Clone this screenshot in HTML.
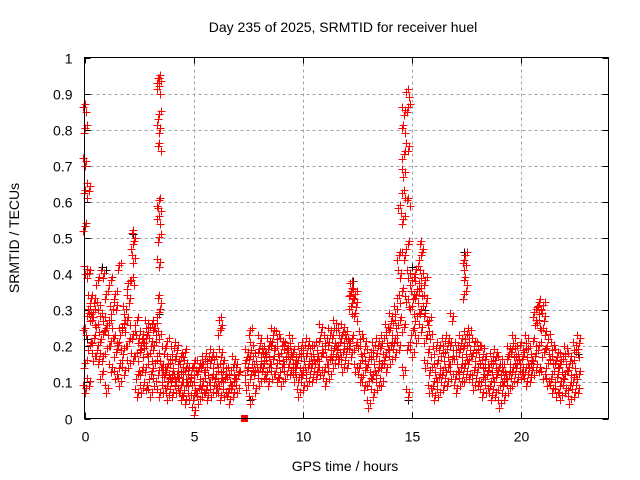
<!DOCTYPE html>
<html><head><meta charset="utf-8"><style>
body{margin:0;background:#fff}
svg{display:block;font-family:"Liberation Sans",sans-serif}
</style></head><body>
<svg id="chart" width="640" height="480" viewBox="0 0 640 480">
<rect width="640" height="480" fill="#fff"/>
<text x="343" y="32" font-size="14" text-anchor="middle">Day 235 of 2025, SRMTID for receiver huel</text>
<text transform="translate(19,238) rotate(-90)" font-size="14" text-anchor="middle">SRMTID / TECUs</text>
<text x="345" y="471" font-size="14" text-anchor="middle">GPS time / hours</text>
<g id="grid" shape-rendering="crispEdges"></g><g id="ticks" shape-rendering="crispEdges"></g><g id="black" shape-rendering="crispEdges"></g><g id="red" shape-rendering="crispEdges"></g>
<rect x="84.5" y="57.5" width="524" height="361" fill="none" stroke="#000" stroke-width="1" shape-rendering="crispEdges"/>
</svg>
<script>
const xTicks=[0,5,10,15,20];
const yTicks=[0,0.1,0.2,0.3,0.4,0.5,0.6,0.7,0.8,0.9,1];
const yTickLabels=["0","0.1","0.2","0.3","0.4","0.5","0.6","0.7","0.8","0.9","1"];
const redTimes=[0,0.2,0.4,0.6,0.8,1.0,1.2,1.4,1.6,1.8,2.0,2.2,2.4,2.6,2.8,3.0,3.2,3.4,3.6,3.8,4.0,4.2,4.4,4.6,4.8,5.0,5.2,5.4,5.6,5.8,6.0,6.2,6.4,6.6,6.8,7.0,7.4,7.6,7.8,8.0,8.2,8.4,8.6,8.8,9.0,9.2,9.4,9.6,9.8,10.0,10.2,10.4,10.6,10.8,11.0,11.2,11.4,11.6,11.8,12.0,12.2,12.4,12.6,12.8,13.0,13.2,13.4,13.6,13.8,14.0,14.2,14.4,14.6,14.8,15.0,15.2,15.4,15.6,15.8,16.0,16.2,16.4,16.6,16.8,17.0,17.2,17.4,17.6,17.8,18.0,18.2,18.4,18.6,18.8,19.0,19.2,19.4,19.6,19.8,20.0,20.2,20.4,20.6,20.8,21.0,21.2,21.4,21.6,21.8,22.0,22.2,22.4,22.6];
const redValues=[
[.08,.15,.24,.41,.53,.62,.71,.80,.86],[.10,.20,.28,.33,.40,.30,.64],[.17,.22,.27,.33,.29],[.16,.20,.25,.31,.38],[.17,.23,.28,.40,.12],
[.08,.19,.24,.27,.34],[.14,.21,.26,.30,.38],[.12,.18,.22,.31,.34],[.10,.15,.20,.24,.42],[.13,.19,.25,.30,.26],
[.15,.21,.27,.33,.37],[.17,.23,.38,.44,.48,.51],[.07,.12,.17,.22,.27],[.08,.13,.18,.23,.20],[.09,.14,.19,.26,.22],
[.07,.12,.17,.21,.25],[.10,.15,.24,.26,.20],[.07,.13,.17,.23,.29,.33,.43,.50,.55,.57,.60,.75,.80,.84,.91,.93,.94],
[.08,.11,.14,.19,.13],[.06,.10,.13,.16,.21],[.07,.11,.15,.19,.12],[.08,.12,.16,.20,.10],[.06,.09,.11,.14,.17],
[.05,.09,.12,.15,.18],[.06,.10,.13,.11],[.02,.06,.09,.13,.15],[.05,.08,.12,.15],[.07,.10,.14,.16],[.06,.09,.13,.17],
[.07,.11,.15,.18],[.08,.12,.16,.10],[.06,.10,.14,.18,.24,.27],[.07,.11,.15,.12],[.05,.08,.11,.13],[.07,.10,.13,.16],
[.08,.12,.14],[.09,.13,.15,.18],[.05,.12,.16,.20,.24],[.08,.13,.17,.14],[.10,.14,.18,.22],[.12,.15,.19,.17],
[.10,.14,.18,.21],[.12,.16,.20,.24],[.11,.15,.19,.23],[.10,.14,.17,.21],[.12,.16,.20,.18],[.13,.16,.19,.22],
[.11,.15,.18,.14],[.07,.11,.15,.19],[.09,.13,.17,.20],[.10,.14,.17,.21],[.11,.15,.19,.16],[.12,.16,.20,.14],
[.13,.17,.21,.25],[.10,.14,.18,.22],[.12,.16,.20,.24],[.15,.19,.22,.26],[.16,.20,.24,.18],[.14,.18,.22,.25],
[.15,.19,.23,.21],[.18,.22,.30,.33,.35,.37],[.14,.20,.28,.32,.34],[.11,.15,.19,.23],[.09,.13,.17,.21],
[.04,.10,.14,.18],[.07,.12,.16,.20],[.09,.13,.17,.21],[.10,.15,.19,.22],[.14,.18,.22,.25],[.16,.20,.24,.28],
[.18,.22,.26,.30],[.20,.27,.33,.40,.45,.58],[.13,.25,.35,.45,.55,.62,.68,.73,.80,.85],[.07,.20,.32,.40,.48,.60,.75,.86,.90],
[.18,.24,.30,.34,.38],[.22,.28,.33,.37,.41],[.25,.30,.35,.40,.45,.48],[.15,.22,.28,.33,.38],[.08,.13,.18,.23,.27],
[.06,.10,.14,.19],[.07,.11,.15,.20],[.09,.13,.17,.21],[.10,.14,.18,.22],[.12,.16,.20,.28],[.08,.12,.16,.20],
[.10,.14,.18,.22],[.11,.15,.19,.23,.34,.38,.42,.45],[.12,.16,.20,.24],[.09,.13,.17,.21],[.10,.14,.18,.20],
[.07,.11,.15,.19],[.08,.12,.16,.13],[.06,.10,.14,.17],[.07,.11,.15,.18],[.04,.09,.13,.16],[.06,.10,.14,.12],
[.08,.12,.16,.19],[.10,.14,.18,.22],[.11,.15,.19,.16],[.12,.16,.20,.14],[.10,.14,.18,.22],[.11,.15,.19,.13],
[.13,.17,.21,.27,.29],[.14,.20,.26,.30,.32],[.12,.18,.24,.28,.31],[.10,.15,.19,.23],[.08,.12,.16,.20],
[.07,.11,.15,.18],[.06,.10,.14,.17],[.08,.12,.16,.19],[.05,.09,.13,.17],[.07,.11,.15,.20],[.08,.12,.18,.22]];
const blackTimes=[0.1,0.8,1.0,2.2,3.4,7.6,12.3,14.8,15.0,15.6,17.4,22.6];
const blackValues=[.22,.42,.41,.51,.29,.05,.38,.05,.42,.30,.46,.18];
const markerTimes=[7.3];
const markerValues=[0];

const X0=84.5,X1=608.5,Y0=418.5,Y1=57.5,XMAX=24,YMAX=1;
const sx=t=>X0+(X1-X0)*t/XMAX;
const sy=v=>Y0-(Y0-Y1)*v/YMAX;
const NS="http://www.w3.org/2000/svg";
function mk(tag,attrs,parent){const e=document.createElementNS(NS,tag);for(const k in attrs)e.setAttribute(k,attrs[k]);parent.appendChild(e);return e;}
const grid=document.getElementById('grid'),ticks=document.getElementById('ticks');
xTicks.forEach(t=>{
  const x=Math.round(sx(t))+0.5;
  if(t>0){const g=mk('line',{x1:x,x2:x,y1:Y1,y2:Y0,stroke:'#a0a0a0','stroke-dasharray':'3,3'},grid);
  
  }
  mk('line',{x1:x,x2:x,y1:Y0,y2:Y0-6,stroke:'#000'},ticks);
  mk('line',{x1:x,x2:x,y1:Y1,y2:Y1+6,stroke:'#000'},ticks);
  const l=mk('text',{x:x,y:Y0+23,'font-size':14,'text-anchor':'middle'},ticks);
  l.textContent=String(t);
  
  
});
yTicks.forEach((v,i)=>{
  const y=Math.round(sy(v))+0.5;
  if(v>0&&v<1){const g=mk('line',{x1:X0,x2:X1,y1:y,y2:y,stroke:'#a0a0a0','stroke-dasharray':'3,3'},grid);
  
  }
  mk('line',{x1:X0,x2:X0+6,y1:y,y2:y,stroke:'#000'},ticks);
  mk('line',{x1:X1,x2:X1-6,y1:y,y2:y,stroke:'#000'},ticks);
  const l=mk('text',{x:X0-12,y:y+5,'font-size':14,'text-anchor':'end'},ticks);
  l.textContent=yTickLabels[i];
  
  
});
function plus(t,v,color,parent,name){
  const x=Math.round(sx(t))+0.5,y=Math.round(sy(v))+0.5;
  const p=mk('path',{d:`M${x-4},${y}H${x+4}M${x},${y-4}V${y+4}`,stroke:color,'stroke-width':1,fill:'none'},parent);
  
  
}
const blackG=document.getElementById('black'),redG=document.getElementById('red');
blackTimes.forEach((t,i)=>plus(t,blackValues[i],'#000',blackG,'black-point'));
// each reading is shown as a small cluster of epochs across its 0.2 h bin
const offT=[-0.07,0,0.07];
const offV=[0.012,-0.01,0.004];
redTimes.forEach((t,i)=>redValues[i].forEach((v,j)=>{
  offT.forEach((o,k)=>plus(t+o+(j%2)*0.03,v+offV[(k+j)%3],'#ff0000',redG,'red-point'));
}));
markerTimes.forEach((t,i)=>{
  const r=mk('rect',{x:Math.round(sx(t))-3,y:Math.round(sy(markerValues[i]))-4,width:7,height:7,fill:'#ff0000'},redG);
  
  
});
</script>
</body></html>
